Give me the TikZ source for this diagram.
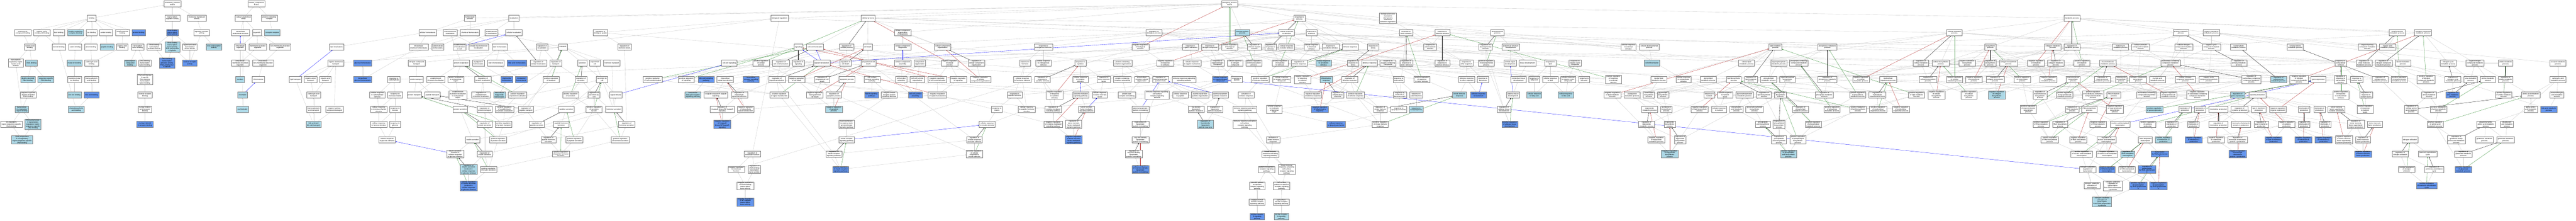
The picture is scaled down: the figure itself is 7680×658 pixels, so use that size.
\documentclass[tikz,border=0pt]{standalone}
\usepackage{fontspec}
\setmainfont{Liberation Sans}
\usepackage{xcolor}
\usetikzlibrary{arrows.meta, backgrounds}

\definecolor{golightblue}{HTML}{ADD8E6}
\definecolor{godarkblue}{HTML}{6495ED}
\definecolor{boxgray}{HTML}{808080}
\definecolor{edgegray}{HTML}{CCCCCC}
\definecolor{negred}{HTML}{B22222}
\definecolor{posgreen}{HTML}{2E8B2E}

\begin{document}
\begin{tikzpicture}[
    x=1pt, y=-1pt,
    gobox/.style={rectangle, draw=boxgray, line width=0.8pt, align=center, inner xsep=3pt, inner ysep=1pt, minimum height=18pt, minimum width=26pt, font=\fontsize{5.2}{5.8}\selectfont},
    goterm/.style={gobox, fill=white},
    golight/.style={gobox, fill=golightblue},
    godark/.style={gobox, fill=godarkblue},
    isaedge/.style={-{Triangle[length=3pt,width=2.6pt]}, draw=edgegray, line width=0.6pt},
    regedge/.style={-{Triangle[length=3pt,width=2.6pt]}, draw=black, line width=0.5pt},
    posedge/.style={-{Triangle[length=3pt,width=2.6pt]}, draw=posgreen, line width=0.5pt},
    negedge/.style={-{Triangle[length=3pt,width=2.6pt]}, draw=negred, line width=0.5pt},
    partedge/.style={-{Triangle[length=3pt,width=2.6pt]}, draw=blue, line width=0.5pt}
]
\useasboundingbox (0,0) rectangle (7680,658);

% molecular function
\node[goterm] (mf) at (514,11) {molecular\_function\\Nr1h4};
\node[goterm] (bind) at (273,54) {binding};
\node[goterm] (trreg) at (514,54) {transcription\\regulator activity};
\node[goterm] (mtrans) at (587,54) {molecular transducer\\activity};
\node[goterm] (hetcb) at (68,97) {heterocyclic\\compound binding};
\node[goterm] (orgcb) at (125,97) {organic cyclic\\compound binding};
\node[goterm] (lipb) at (175,97) {lipid binding};
\node[golight] (pccb) at (225,97) {protein-containing\\complex binding};
\node[goterm] (ionb) at (273,97) {ion binding};
\node[goterm] (amib) at (316,97) {amide binding};
\node[goterm] (smb) at (365,97) {small molecule\\binding};
\node[godark] (protb) at (413,97) {protein binding};
\node[godark] (dbtf) at (514,97) {DNA-binding\\transcription\\factor activity};
\node[goterm] (sigra) at (601,97) {signaling receptor\\activity};
\node[goterm] (nab) at (89,140) {nucleic acid\\binding};
\node[goterm] (sterb) at (175,140) {steroid binding};
\node[goterm] (catb) at (224,140) {cation binding};
\node[goterm] (anb) at (271,140) {anion binding};
\node[golight] (pepb) at (319,140) {peptide binding};
\node[goterm] (orgab) at (364,140) {organic acid\\binding};
\node[goterm] (tfb) at (410,140) {transcription\\factor binding};
\node[goterm] (dbta) at (460,140) {DNA-binding\\transcription\\activator activity};
\node[golight] (dbtf2) at (514,140) {DNA-binding\\transcription\\factor activity,\\RNA polymerase\\II-specific};
\node[goterm] (latf) at (566,140) {ligand-activated\\transcription\\factor activity};
\node[golight] (barec) at (638,140) {bile acid receptor\\activity};
\node[goterm] (trrnab) at (47,188) {transcription\\regulatory region\\nucleic acid\\binding};
\node[golight] (dnab) at (94,188) {DNA binding};
\node[golight] (metb) at (222,188) {metal ion binding};
\node[goterm] (carbb) at (273,188) {carboxylic acid\\binding};
\node[golight] (tcorb) at (388,188) {transcription\\coregulator\\binding};
\node[goterm] (dbtfb) at (432,188) {DNA-binding\\transcription\\factor binding};
\node[godark] (dbta2) at (498,188) {DNA-binding\\transcription\\activator activity,\\RNA polymerase\\II-specific};
\node[godark] (nrec) at (566,188) {nuclear receptor\\activity};
\node[golight] (dsdna) at (83,237) {double-stranded\\DNA binding};
\node[golight] (ssdna) at (137,237) {sequence-specific\\DNA binding};
\node[goterm] (tmib) at (222,237) {transition metal\\ion binding};
\node[goterm] (mcab) at (273,237) {monocarboxylic\\acid binding};
\node[goterm] (r2dbtfb) at (432,237) {RNA polymerase\\II-specific\\DNA-binding\\transcription\\factor binding};
\node[goterm] (ssds) at (84,283) {sequence-specific\\double-stranded\\DNA binding};
\node[golight] (znb) at (222,283) {zinc ion binding};
\node[godark] (bab) at (273,283) {bile acid binding};
\node[goterm] (nrb) at (432,283) {nuclear receptor\\binding};
\node[golight] (tcrb) at (65,326) {transcription\\cis-regulatory\\region binding};
\node[golight] (cdcab) at (227,326) {chenodeoxycholic\\acid binding};
\node[goterm] (nrarb) at (432,326) {nuclear retinoic\\acid receptor\\binding};
\node[goterm] (crssd) at (34,371) {cis-regulatory\\region sequence-specific\\DNA binding};
\node[golight] (r2trr) at (98,371) {RNA polymerase\\II transcription\\regulatory region\\sequence-specific\\DNA binding};
\node[godark] (nrxrb) at (432,371) {nuclear retinoid\\X receptor binding};
\node[golight] (r2crs) at (66,417) {RNA polymerase\\II cis-regulatory\\region sequence-specific\\DNA binding};

% cellular component
\node[goterm] (cc) at (764,11) {cellular\_component\\Nr1h4};
\node[goterm] (cae) at (726,54) {cellular anatomical\\entity};
\node[goterm] (pcc) at (803,54) {protein-containing\\complex};
\node[goterm] (ias) at (717,97) {intracellular\\anatomical structure};
\node[goterm] (org) at (766,97) {organelle};
\node[golight] (recc) at (812,97) {receptor complex};
\node[goterm] (iorg) at (716,140) {intracellular\\organelle};
\node[goterm] (mbo) at (768,140) {membrane-bounded\\organelle};
\node[goterm] (nmbo) at (835,140) {non-membrane-bounded\\organelle};
\node[goterm] (imbo) at (716,188) {intracellular\\membrane-bounded\\organelle};
\node[goterm] (inmbo) at (784,188) {intracellular\\non-membrane-bounded\\organelle};
\node[golight] (nucl) at (716,237) {nucleus};
\node[goterm] (chrom) at (770,237) {chromosome};
\node[golight] (chrtn) at (723,283) {chromatin};
\node[golight] (euchr) at (723,326) {euchromatin};

% biological process: localization, homeostasis, secretion
\node[goterm] (lipl) at (1003,140) {lipid localization};
\node[goterm] (celh) at (1275,97) {cellular homeostasis};
\node[goterm] (mmloc) at (1342,97) {macromolecule\\localization};
\node[goterm] (icchh) at (1248,140) {intracellular\\chemical homeostasis};
\node[goterm] (carbh) at (1305,140) {carbohydrate\\homeostasis};
\node[goterm] (ost) at (1001,188) {organic substance\\transport};
\node[godark] (gluh) at (1081,188) {glucose homeostasis};
\node[goterm] (nct) at (1242,188) {nitrogen compound\\transport};
\node[goterm] (lipt) at (881,237) {lipid transport};
\node[goterm] (oant) at (926,237) {organic anion\\transport};
\node[goterm] (oact) at (970,237) {organic acid\\transport};
\node[godark] (igluh) at (1081,237) {intracellular\\glucose homeostasis};
\node[goterm] (rcarb) at (1174,237) {response to\\carbohydrate};
\node[goterm] (amt) at (1241,237) {amide transport};
\node[goterm] (epl) at (1299,237) {establishment\\of protein localization};
\node[goterm] (plxr) at (1359,237) {protein localization\\to extracellular\\region};
\node[goterm] (cat) at (935,283) {carboxylic acid\\transport};
\node[goterm] (crcs) at (1125,283) {cellular response\\to carbohydrate\\stimulus};
\node[goterm] (rmono) at (1178,283) {response to\\monosaccharide};
\node[goterm] (prt) at (1235,283) {protein transport};
\node[goterm] (pept) at (1289,283) {peptide transport};
\node[goterm] (eplxr) at (1365,283) {establishment\\of protein localization\\to extracellular\\region};
\node[goterm] (mcat) at (935,326) {monocarboxylic\\acid transport};
\node[goterm] (ohct) at (997,326) {organic hydroxy\\compound transport};
\node[goterm] (crms) at (1129,326) {cellular response\\to monosaccharide\\stimulus};
\node[goterm] (rhex) at (1178,326) {response to\\hexose};
\node[golight] (babst) at (935,371) {bile acid and\\bile salt transport};
\node[goterm] (crhs) at (1129,371) {cellular response\\to hexose stimulus};
\node[goterm] (rglu) at (1178,371) {response to\\glucose};
\node[goterm] (crgs) at (1154,417) {cellular response\\to glucose stimulus};
\node[goterm] (isgs) at (1357,459) {insulin secretion\\involved in\\cellular response\\to glucose stimulus};
\node[goterm] (homp) at (1401,54) {homeostatic\\process};
\node[goterm] (loc) at (1532,54) {localization};
\node[goterm] (chemh) at (1401,97) {chemical homeostasis};
\node[goterm] (estl) at (1465,97) {establishment\\of localization};
\node[goterm] (cloc) at (1532,97) {cellular localization};
\node[goterm] (rbq) at (1790,97) {regulation of\\biological quality};
\node[goterm] (elic) at (1370,140) {establishment\\of localization\\in cell};
\node[goterm] (cmml) at (1427,140) {cellular macromolecule\\localization};
\node[goterm] (liph) at (1490,140) {lipid homeostasis};
\node[goterm] (rloc) at (1616,140) {regulation of\\localization};
\node[goterm] (trans) at (1678,140) {transport};
\node[goterm] (rhl) at (1862,140) {regulation of\\hormone levels};
\node[goterm] (ploc) at (1375,188) {protein localization};
\node[goterm] (acgh) at (1426,188) {acylglycerol\\homeostasis};
\node[goterm] (sterh) at (1478,188) {sterol homeostasis};
\node[godark] (fah) at (1541,188) {fatty acid homeostasis};
\node[goterm] (rcloc) at (1605,188) {regulation of\\cellular localization};
\node[goterm] (rtr) at (1657,188) {regulation of\\transport};
\node[goterm] (secr) at (1736,188) {secretion};
\node[goterm] (expc) at (1774,188) {export from\\cell};
\node[goterm] (hort) at (1824,188) {hormone transport};
\node[goterm] (rploc) at (1440,237) {regulation of\\protein localization};
\node[godark] (tgh) at (1511,237) {triglyceride\\homeostasis};
\node[godark] (cholh) at (1554,237) {cholesterol\\homeostasis};
\node[goterm] (prtr) at (1643,237) {positive regulation\\of transport};
\node[goterm] (rsec) at (1732,237) {regulation of\\secretion};
\node[goterm] (secc) at (1795,237) {secretion by\\cell};
\node[goterm] (prcc) at (1946,237) {positive regulation\\of cell communication};
\node[goterm] (prsig) at (2046,237) {positive regulation\\of signaling};
\node[goterm] (repl) at (1434,283) {regulation of\\establishment\\of protein localization};
\node[golight] (itgh) at (1489,283) {intracellular\\triglyceride\\homeostasis};
\node[goterm] (prploc) at (1543,283) {positive regulation\\of protein localization};
\node[goterm] (prsec) at (1701,283) {positive regulation\\of secretion};
\node[goterm] (rsecc) at (1771,283) {regulation of\\secretion by\\cell};
\node[goterm] (sigrel) at (1836,283) {signal release};
\node[golight] (ibarsp) at (2066,283) {intracellular\\bile acid receptor\\signaling pathway};
\node[goterm] (psec) at (1372,326) {protein secretion};
\node[goterm] (rprt) at (1445,326) {regulation of\\protein transport};
\node[goterm] (prepl) at (1504,326) {positive regulation\\of establishment\\of protein localization};
\node[goterm] (rpept) at (1568,326) {regulation of\\peptide transport};
\node[goterm] (pepsec) at (1688,326) {peptide secretion};
\node[goterm] (prsecc) at (1771,326) {positive regulation\\of secretion\\by cell};
\node[goterm] (horsec) at (1830,326) {hormone secretion};
\node[goterm] (rpsec) at (1445,371) {regulation of\\protein secretion};
\node[goterm] (prprt) at (1501,371) {positive regulation\\of protein transport};
\node[goterm] (rpepsec) at (1600,371) {regulation of\\peptide secretion};
\node[goterm] (phsec) at (1673,371) {peptide hormone\\secretion};
\node[goterm] (rhsec) at (1868,371) {regulation of\\hormone secretion};
\node[goterm] (inssec) at (1409,417) {insulin secretion};
\node[goterm] (prpsec) at (1485,417) {positive regulation\\of protein secretion};
\node[goterm] (rphsec) at (1635,417) {regulation of\\peptide hormone\\secretion};
\node[goterm] (prpepsec) at (1712,417) {positive regulation\\of peptide secretion};
\node[goterm] (prhsec) at (1849,417) {positive regulation\\of hormone secretion};
\node[goterm] (rinssec) at (1445,459) {regulation of\\insulin secretion};
\node[goterm] (prphsec) at (1672,459) {positive regulation\\of peptide hormone\\secretion};
\node[golight] (risgs) at (1397,505) {regulation of\\insulin secretion\\involved in\\cellular response\\to glucose stimulus};
\node[goterm] (prinssec) at (1456,505) {positive regulation\\of insulin secretion};
\node[godark] (prisgs) at (1397,554) {positive regulation\\of insulin secretion\\involved in\\cellular response\\to glucose stimulus};

% signaling and cell death
\node[goterm] (breg) at (2324,54) {biological regulation};
\node[goterm] (cellp) at (2588,54) {cellular process};
\node[goterm] (ccob) at (2691,97) {cellular component\\organization\\or biogenesis};
\node[goterm] (sig) at (2380,140) {signaling};
\node[goterm] (ccomm) at (2430,140) {cell communication};
\node[goterm] (rcp) at (2524,140) {regulation of\\cellular process};
\node[goterm] (cdeath) at (2587,140) {cell death};
\node[goterm] (ccbio) at (2691,140) {cellular component\\biogenesis};
\node[goterm] (ccsig) at (2174,188) {cell-cell signaling};
\node[goterm] (prcp) at (2269,188) {positive regulation\\of cellular\\process};
\node[goterm] (rcc) at (2328,188) {regulation of\\cell communication};
\node[goterm] (rsig) at (2380,188) {regulation of\\signaling};
\node[goterm] (st) at (2450,188) {signal transduction};
\node[goterm] (rcd) at (2521,188) {regulation of\\cell death};
\node[goterm] (pcd) at (2589,188) {programmed cell\\death};
\node[goterm] (ccasm) at (2691,188) {cellular component\\assembly};
\node[goterm] (cjo) at (2742,188) {cell junction\\organization};
\node[godark] (basp) at (2105,237) {bile acid signaling\\pathway};
\node[goterm] (ist) at (2162,237) {intracellular\\signal transduction};
\node[godark] (irsp) at (2239,237) {intracellular\\receptor signaling\\pathway};
\node[goterm] (rst) at (2316,237) {regulation of\\signal transduction};
\node[goterm] (nrcd) at (2375,237) {negative regulation\\of cell death};
\node[goterm] (rpcd) at (2451,237) {regulation of\\programmed cell\\death};
\node[goterm] (apop) at (2525,237) {apoptotic process};
\node[goterm] (csrsp) at (2600,237) {cell surface\\receptor signaling\\pathway};
\node[goterm] (cja) at (2687,237) {cell junction\\assembly};
\node[goterm] (ccjo) at (2735,237) {cell-cell junction\\organization};
\node[goterm] (nfkb) at (2134,283) {I-kappaB kinase/NF-kappaB\\signaling};
\node[goterm] (rist) at (2204,283) {regulation of\\intracellular\\signal transduction};
\node[goterm] (prst) at (2323,283) {positive regulation\\of signal transduction};
\node[goterm] (nrpcd) at (2429,283) {negative regulation\\of programmed\\cell death};
\node[goterm] (rap) at (2486,283) {regulation of\\apoptotic process};
\node[godark] (notch) at (2598,283) {Notch signaling\\pathway};
\node[goterm] (elrp) at (2651,283) {enzyme-linked\\receptor protein\\signaling pathway};
\node[godark] (ccja) at (2729,283) {cell-cell junction\\assembly};
\node[goterm] (rnfkb) at (2153,326) {regulation of\\I-kappaB kinase/NF-kappaB\\signaling};
\node[goterm] (nrist) at (2223,326) {negative regulation\\of intracellular\\signal transduction};
\node[golight] (nrap) at (2486,326) {negative regulation\\of apoptotic\\process};
\node[godark] (nrnfkb) at (2153,371) {negative regulation\\of I-kappaB\\kinase/NF-kappaB\\signaling};
\node[goterm] (rptk) at (2524,371) {transmembrane\\receptor protein\\tyrosine kinase\\signaling pathway};
\node[goterm] (insr) at (2524,417) {insulin receptor\\signaling pathway};
\node[goterm] (rmf) at (2243,459) {regulation of\\molecular function};
\node[goterm] (rinsr) at (2486,459) {regulation of\\insulin receptor\\signaling pathway};
\node[goterm] (nrmf) at (2195,505) {negative regulation\\of molecular\\function};
\node[goterm] (rdbtf) at (2249,505) {regulation of\\DNA-binding\\transcription\\factor activity};
\node[godark] (prinsr) at (2506,505) {positive regulation\\of insulin receptor\\signaling pathway};
\node[goterm] (nrdbtf) at (2222,554) {negative regulation\\of DNA-binding\\transcription\\factor activity};
\node[godark] (nrnfkbtf) at (2222,602) {negative regulation\\of NF-kappaB\\transcription\\factor activity};

% responses, cytokine, lipoprotein
\node[goterm] (rbp) at (3440,97) {regulation of\\biological process};
\node[goterm] (cco) at (2810,140) {cellular component\\organization};
\node[goterm] (res) at (3111,140) {response to\\endogenous stimulus};
\node[goterm] (nrbp) at (3400,140) {negative regulation\\of biological\\process};
\node[goterm] (nrcp) at (2831,188) {negative regulation\\of cellular\\process};
\node[goterm] (rcco) at (2911,188) {regulation of\\cellular component\\organization};
\node[goterm] (rhor) at (3056,188) {response to\\hormone};
\node[goterm] (cres) at (3111,188) {cellular response\\to endogenous\\stimulus};
\node[goterm] (rcyt) at (3221,188) {response to\\cytokine};
\node[goterm] (pcco) at (3347,188) {protein-containing\\complex organization};
\node[goterm] (nrrs) at (3474,188) {negative regulation\\of response\\to stimulus};
\node[goterm] (nrcc) at (2794,237) {negative regulation\\of cell communication};
\node[goterm] (nrsig) at (2857,237) {negative regulation\\of signaling};
\node[goterm] (nrcco) at (2923,237) {negative regulation\\of cellular\\component organization};
\node[goterm] (crhor) at (3048,237) {cellular response\\to hormone stimulus};
\node[goterm] (rrcs) at (3108,237) {regulation of\\response to\\cytokine stimulus};
\node[goterm] (crcyt) at (3221,237) {cellular response\\to cytokine\\stimulus};
\node[goterm] (rtnf) at (3291,237) {response to\\tumor necrosis\\factor};
\node[goterm] (pccr) at (3346,237) {protein-containing\\complex remodeling};
\node[goterm] (plcso) at (3404,237) {protein-lipid\\complex subunit\\organization};
\node[goterm] (rplpl) at (3460,237) {regulation of\\plasma lipoprotein\\particle levels};
\node[goterm] (nrst) at (2795,283) {negative regulation\\of signal transduction};
\node[goterm] (rph) at (3025,283) {response to\\peptide hormone};
\node[goterm] (nrrcs) at (3144,283) {negative regulation\\of response\\to cytokine\\stimulus};
\node[goterm] (cmsp) at (3222,283) {cytokine-mediated\\signaling pathway};
\node[goterm] (crtnf) at (3279,283) {cellular response\\to tumor necrosis\\factor};
\node[goterm] (plcr) at (3359,283) {protein-lipid\\complex remodeling};
\node[goterm] (irrcs) at (3450,283) {immune response-regulating\\cell surface\\receptor signaling\\pathway};
\node[goterm] (rins) at (2972,326) {response to\\insulin};
\node[goterm] (crph) at (3061,326) {cellular response\\to peptide hormone\\stimulus};
\node[goterm] (rcmsp) at (3140,326) {regulation of\\cytokine-mediated\\signaling pathway};
\node[goterm] (tnfsp) at (3239,326) {tumor necrosis\\factor-mediated\\signaling pathway};
\node[goterm] (plpr) at (3400,326) {plasma lipoprotein\\particle remodeling};
\node[goterm] (crins) at (2943,371) {cellular response\\to insulin stimulus};
\node[goterm] (nrcmsp) at (3140,371) {negative regulation\\of cytokine-mediated\\signaling pathway};
\node[goterm] (rtnfsp) at (3201,371) {regulation of\\tumor necrosis\\factor-mediated\\signaling pathway};
\node[goterm] (tgrlpr) at (3400,371) {triglyceride-rich\\lipoprotein\\particle remodeling};
\node[goterm] (rcrins) at (2905,417) {regulation of\\cellular response\\to insulin stimulus};
\node[godark] (nrtnfsp) at (3201,417) {negative regulation\\of tumor necrosis\\factor-mediated\\signaling pathway};
\node[goterm] (vldlr) at (3400,417) {very-low-density\\lipoprotein\\particle remodeling};
\node[goterm] (prcrins) at (2905,459) {positive regulation\\of cellular\\response to\\insulin stimulus};
\node[goterm] (rvldlr) at (3380,459) {regulation of\\very-low-density\\lipoprotein\\particle remodeling};
\node[godark] (nrvldlr) at (3400,505) {negative regulation\\of very-low-density\\lipoprotein\\particle remodeling};

% immune system and stimulus
\node[goterm] (bp) at (3666,11) {biological\_process\\Nr1h4};
\node[goterm] (rstim) at (3874,54) {response to\\stimulus};
\node[goterm] (bpii) at (4138,54) {biological process\\involved in\\interspecies\\interaction\\between organisms};
\node[golight] (imsp) at (3704,97) {immune system\\process};
\node[goterm] (crstim) at (3836,97) {cellular response\\to stimulus};
\node[goterm] (rchem) at (3910,97) {response to\\chemical};
\node[goterm] (ros) at (3549,140) {response to\\organic substance};
\node[goterm] (rnc) at (3607,140) {response to\\nitrogen compound};
\node[goterm] (prbp) at (3666,140) {positive regulation\\of biological\\process};
\node[goterm] (risp) at (3740,140) {regulation of\\immune system\\process};
\node[goterm] (rrs) at (3788,140) {regulation of\\response to\\stimulus};
\node[goterm] (crbs) at (3836,140) {cellular response\\to biotic stimulus};
\node[goterm] (crchem) at (3910,140) {cellular response\\to chemical\\stimulus};
\node[goterm] (rxs) at (3967,140) {response to\\xenobiotic stimulus};
\node[goterm] (imr) at (4025,140) {immune response};
\node[goterm] (rstress) at (4094,140) {response to\\stress};
\node[goterm] (cros) at (3554,188) {cellular response\\to organic substance};
\node[goterm] (ronc) at (3630,188) {response to\\organonitrogen\\compound};
\node[goterm] (crnc) at (3682,188) {cellular response\\to nitrogen\\compound};
\node[goterm] (prisp) at (3738,188) {positive regulation\\of immune system\\process};
\node[goterm] (prrs) at (3816,188) {positive regulation\\of response\\to stimulus};
\node[goterm] (rir) at (3873,188) {regulation of\\immune response};
\node[golight] (crxs) at (3946,188) {cellular response\\to xenobiotic\\stimulus};
\node[goterm] (rrst) at (4034,188) {regulation of\\response to\\stress};
\node[goterm] (defr) at (4083,188) {defense response};
\node[goterm] (rocc) at (4138,188) {response to\\oxygen-containing\\compound};
\node[goterm] (irrsp) at (3530,237) {immune response-regulating\\signaling pathway};
\node[godark] (cronc) at (3638,237) {cellular response\\to organonitrogen\\compound};
\node[goterm] (rpep) at (3687,237) {response to\\peptide};
\node[goterm] (prir) at (3757,237) {positive regulation\\of immune response};
\node[goterm] (crocc) at (3821,237) {cellular response\\to oxygen-containing\\compound};
\node[goterm] (nrres) at (3883,237) {negative regulation\\of response\\to external\\stimulus};
\node[golight] (inflr) at (3954,237) {inflammatory\\response};
\node[goterm] (rdefr) at (4024,237) {regulation of\\defense response};
\node[goterm] (rmoa) at (4170,237) {response to\\monoamine};
\node[goterm] (crpep) at (3519,283) {cellular response\\to peptide};
\node[goterm] (plpo) at (3578,283) {plasma lipoprotein\\particle organization};
\node[goterm] (plpc) at (3638,283) {plasma lipoprotein\\particle clearance};
\node[goterm] (air) at (3715,283) {activation of\\immune response};
\node[goterm] (nrdefr) at (3914,283) {negative regulation\\of defense response};
\node[goterm] (rinfl) at (3988,283) {regulation of\\inflammatory\\response};
\node[goterm] (prdefr) at (4041,283) {positive regulation\\of defense response};
\node[goterm] (rmbo) at (4173,283) {response to\\molecule of\\bacterial origin};
\node[goterm] (ldlc) at (3566,326) {low-density\\lipoprotein\\particle clearance};
\node[goterm] (rlpc) at (3622,326) {regulation of\\lipoprotein\\particle clearance};
\node[goterm] (irasp) at (3711,326) {immune response-activating\\signaling pathway};
\node[goterm] (crmbo) at (3799,326) {cellular response\\to molecule\\of bacterial\\origin};
\node[godark] (nrinfl) at (3935,326) {negative regulation\\of inflammatory\\response};
\node[goterm] (riir) at (4115,326) {regulation of\\innate immune\\response};
\node[goterm] (rlps) at (4170,326) {response to\\lipopolysaccharide};
\node[golight] (rldlc) at (3594,371) {regulation of\\low-density\\lipoprotein\\particle clearance};
\node[goterm] (iracs) at (3711,371) {immune response-activating\\cell surface\\receptor signaling\\pathway};
\node[godark] (crlps) at (3983,371) {cellular response\\to lipopolysaccharide};
\node[goterm] (priir) at (4115,371) {positive regulation\\of innate immune\\response};
\node[goterm] (aiir) at (3796,417) {activation of\\innate immune\\response};
\node[goterm] (iirasp) at (3787,459) {innate immune\\response-activating\\signaling pathway};
\node[goterm] (prrsp) at (3776,505) {pattern recognition\\receptor signaling\\pathway};
\node[goterm] (iiracs) at (3836,505) {innate immune\\response activating\\cell surface\\receptor signaling\\pathway};
\node[goterm] (cprr) at (3748,554) {cytosolic pattern\\recognition\\receptor signaling\\pathway};
\node[goterm] (csprr) at (3821,554) {cell surface\\pattern recognition\\receptor signaling\\pathway};
\node[goterm] (etlr) at (3748,602) {endolysosomal\\toll-like receptor\\signaling pathway};
\node[goterm] (cstlr) at (3820,602) {cell surface\\toll-like receptor\\signaling pathway};
\node[godark] (tlr9) at (3748,646) {toll-like receptor\\9 signaling\\pathway};
\node[golight] (tlr4) at (3820,646) {toll-like receptor\\4 signaling\\pathway};

% external stimulus and development
\node[goterm] (rbs) at (4192,97) {response to\\biotic stimulus};
\node[goterm] (rext) at (4300,97) {response to\\external stimulus};
\node[goterm] (devp) at (4464,97) {developmental\\process};
\node[goterm] (rebs) at (4264,140) {response to\\external biotic\\stimulus};
\node[goterm] (rdevp) at (4429,140) {regulation of\\developmental\\process};
\node[goterm] (asd) at (4504,140) {anatomical structure\\development};
\node[goterm] (crext) at (4855,140) {cellular response\\to external\\stimulus};
\node[goterm] (rrbs) at (4193,188) {regulation of\\response to\\biotic stimulus};
\node[goterm] (rrext) at (4300,188) {regulation of\\response to\\external stimulus};
\node[goterm] (roo) at (4372,188) {response to\\other organism};
\node[goterm] (prdevp) at (4431,188) {positive regulation\\of developmental\\process};
\node[goterm] (aod) at (4502,188) {animal organ\\development};
\node[goterm] (tisd) at (4554,188) {tissue development};
\node[goterm] (rlip) at (4622,188) {response to\\lipid};
\node[goterm] (rocyc) at (4696,188) {response to\\organic cyclic\\compound};
\node[goterm] (prrbs) at (4239,237) {positive regulation\\of response\\to biotic stimulus};
\node[goterm] (droo) at (4373,237) {defense response\\to other organism};
\node[goterm] (rbact) at (4421,237) {response to\\bacterium};
\node[goterm] (ctd) at (4527,237) {connective tissue\\development};
\node[goterm] (rfa) at (4574,237) {response to\\fatty acid};
\node[goterm] (crlip) at (4622,237) {cellular response\\to lipid};
\node[goterm] (crocyc) at (4675,237) {cellular response\\to organic cyclic\\compound};
\node[goterm] (rba) at (4723,237) {response to\\bile acid};
\node[goterm] (prrext) at (4810,237) {positive regulation\\of response\\to external\\stimulus};
\node[goterm] (rcat) at (4222,283) {response to\\catecholamine};
\node[golight] (iir) at (4351,283) {innate immune\\response};
\node[godark] (drb) at (4408,283) {defense response\\to bacterium};
\node[goterm] (atd) at (4511,283) {adipose tissue\\development};
\node[golight] (crfa) at (4574,283) {cellular response\\to fatty acid};
\node[golight] (crba) at (4668,283) {cellular response\\to bile acid};
\node[goterm] (nrlmp) at (4807,283) {negative regulation\\of lipid metabolic\\process};
\node[goterm] (acgm) at (4866,283) {acylglycerol\\metabolic process};
\node[golight] (rnorepi) at (4222,326) {response to\\norepinephrine};
\node[goterm] (ratd) at (4484,326) {regulation of\\adipose tissue\\development};
\node[godark] (pratd) at (4501,371) {positive regulation\\of adipose tissue\\development};

% lipid metabolism
\node[goterm] (cdp) at (4917,140) {cellular developmental\\process};
\node[goterm] (lmp) at (5293,140) {lipid metabolic\\process};
\node[goterm] (phmp) at (5448,140) {phosphorus metabolic\\process};
\node[golight] (cdiff) at (4925,188) {cell differentiation};
\node[goterm] (clmp) at (5207,188) {cellular lipid\\metabolic process};
\node[goterm] (opmp) at (5303,188) {organophosphate\\metabolic process};
\node[goterm] (pccmp) at (5363,188) {phosphate-containing\\compound metabolic\\process};
\node[goterm] (nlmp) at (4945,237) {neutral lipid\\metabolic process};
\node[goterm] (crexs) at (5019,237) {cellular response\\to extracellular\\stimulus};
\node[goterm] (glmp) at (5093,237) {glycerolipid\\metabolic process};
\node[goterm] (lbp) at (5169,237) {lipid biosynthetic\\process};
\node[goterm] (rlmp) at (5220,237) {regulation of\\lipid metabolic\\process};
\node[goterm] (plmp) at (5273,237) {phospholipid\\metabolic process};
\node[goterm] (opbp) at (5329,237) {organophosphate\\biosynthetic\\process};
\node[goterm] (rphmp) at (5448,237) {regulation of\\phosphorus metabolic\\process};
\node[goterm] (nrcmp) at (5548,237) {negative regulation\\of cellular\\metabolic process};
\node[goterm] (nlbp) at (4916,283) {neutral lipid\\biosynthetic\\process};
\node[goterm] (glbp) at (4958,283) {glycerolipid\\biosynthetic\\process};
\node[goterm] (rnut) at (5096,283) {response to\\nutrient};
\node[goterm] (crnl) at (5143,283) {cellular response\\to nutrient\\levels};
\node[goterm] (gplmp) at (5201,283) {glycerophospholipid\\metabolic process};
\node[goterm] (rlbp) at (5259,283) {regulation of\\lipid biosynthetic\\process};
\node[goterm] (plbp) at (5308,283) {phospholipid\\biosynthetic\\process};
\node[goterm] (rphamp) at (5439,283) {regulation of\\phosphate metabolic\\process};
\node[goterm] (prphmp) at (5538,283) {positive regulation\\of phosphorus\\metabolic process};
\node[goterm] (tgmp) at (4918,326) {triglyceride\\metabolic process};
\node[goterm] (agbp) at (4968,326) {acylglycerol\\biosynthetic\\process};
\node[goterm] (nrlbp) at (5067,326) {negative regulation\\of lipid biosynthetic\\process};
\node[goterm] (crnut) at (5125,326) {cellular response\\to nutrient};
\node[goterm] (pamp) at (5177,326) {phosphatidic\\acid metabolic\\process};
\node[goterm] (gplbp) at (5231,326) {glycerophospholipid\\biosynthetic\\process};
\node[goterm] (rplmp) at (5368,326) {regulation of\\phospholipid\\metabolic process};
\node[goterm] (prphamp) at (5462,326) {positive regulation\\of phosphate\\metabolic process};
\node[goterm] (prlbp) at (5539,326) {positive regulation\\of lipid biosynthetic\\process};
\node[goterm] (rtgmp) at (4909,371) {regulation of\\triglyceride\\metabolic process};
\node[goterm] (tgbp) at (4978,371) {triglyceride\\biosynthetic\\process};
\node[goterm] (pabp) at (5256,371) {phosphatidic\\acid biosynthetic\\process};
\node[goterm] (rplbp) at (5304,371) {regulation of\\phospholipid\\biosynthetic\\process};
\node[goterm] (prplmp) at (5406,371) {positive regulation\\of phospholipid\\metabolic process};
\node[goterm] (nrtgmp) at (4938,417) {negative regulation\\of triglyceride\\metabolic process};
\node[goterm] (rtgbp) at (5009,417) {regulation of\\triglyceride\\biosynthetic\\process};
\node[goterm] (rpabp) at (5304,417) {regulation of\\phosphatidic\\acid biosynthetic\\process};
\node[goterm] (prplbp) at (5360,417) {positive regulation\\of phospholipid\\biosynthetic\\process};
\node[golight] (nrtgbp) at (4978,459) {negative regulation\\of triglyceride\\biosynthetic\\process};
\node[golight] (prpabp) at (5332,459) {positive regulation\\of phosphatidic\\acid biosynthetic\\process};

% metabolic process and transcription
\node[goterm] (metp) at (6177,54) {metabolic process};
\node[goterm] (cmp) at (5827,97) {cellular metabolic\\process};
\node[goterm] (bsp) at (5934,140) {biosynthetic\\process};
\node[goterm] (colmp) at (6120,140) {collagen metabolic\\process};
\node[goterm] (rmp) at (6177,140) {regulation of\\metabolic process};
\node[goterm] (rcmp) at (5727,188) {regulation of\\cellular metabolic\\process};
\node[goterm] (cbp) at (5786,188) {cellular biosynthetic\\process};
\node[goterm] (osbp) at (5865,188) {organic substance\\biosynthetic\\process};
\node[goterm] (rbsp) at (5934,188) {regulation of\\biosynthetic\\process};
\node[goterm] (colbp) at (5988,188) {collagen biosynthetic\\process};
\node[goterm] (nrmp) at (6070,188) {negative regulation\\of metabolic\\process};
\node[goterm] (rcolmp) at (6129,188) {regulation of\\collagen metabolic\\process};
\node[goterm] (prmp) at (6207,188) {positive regulation\\of metabolic\\process};
\node[goterm] (mmmp) at (6284,188) {macromolecule\\metabolic process};
\node[goterm] (mop) at (5629,237) {multicellular\\organismal process};
\node[goterm] (rcbp) at (5748,237) {regulation of\\cellular biosynthetic\\process};
\node[goterm] (prcmp) at (5827,237) {positive regulation\\of cellular\\metabolic process};
\node[goterm] (nrbsp) at (5885,237) {negative regulation\\of biosynthetic\\process};
\node[goterm] (rcolbp) at (5948,237) {regulation of\\collagen biosynthetic\\process};
\node[goterm] (prbsp) at (6029,237) {positive regulation\\of biosynthetic\\process};
\node[goterm] (nrcolmp) at (6107,237) {negative regulation\\of collagen\\metabolic process};
\node[goterm] (mmbp) at (6181,237) {macromolecule\\biosynthetic\\process};
\node[goterm] (rmmmp) at (6268,237) {regulation of\\macromolecule\\metabolic process};
\node[goterm] (rmop) at (5597,283) {regulation of\\multicellular\\organismal process};
\node[goterm] (prlmp) at (5714,283) {positive regulation\\of lipid metabolic\\process};
\node[goterm] (nrcbp) at (5773,283) {negative regulation\\of cellular\\biosynthetic\\process};
\node[goterm] (prcbp) at (5870,283) {positive regulation\\of cellular\\biosynthetic\\process};
\node[golight] (nrcolbp) at (5953,283) {negative regulation\\of collagen\\biosynthetic\\process};
\node[goterm] (rmmbp) at (6082,283) {regulation of\\macromolecule\\biosynthetic\\process};
\node[goterm] (prmmmp) at (6155,283) {positive regulation\\of macromolecule\\metabolic process};
\node[goterm] (prncmp) at (6240,283) {positive regulation\\of nucleobase-containing\\compound metabolic\\process};
\node[goterm] (prmop) at (5599,326) {positive regulation\\of multicellular\\organismal process};
\node[goterm] (nrmop) at (5667,326) {negative regulation\\of multicellular\\organismal process};
\node[goterm] (prmmbp) at (6047,326) {positive regulation\\of macromolecule\\biosynthetic\\process};
\node[goterm] (rrnamp) at (6178,326) {regulation of\\RNA metabolic\\process};
\node[goterm] (rnabp) at (6229,326) {RNA biosynthetic\\process};
\node[goterm] (prrnamp) at (6085,371) {positive regulation\\of RNA metabolic\\process};
\node[goterm] (rrnabp) at (6142,371) {regulation of\\RNA biosynthetic\\process};
\node[goterm] (nrrnamp) at (6255,371) {negative regulation\\of RNA metabolic\\process};
\node[goterm] (prrnabp) at (6111,417) {positive regulation\\of RNA biosynthetic\\process};
\node[goterm] (nrrnabp) at (6196,417) {negative regulation\\of RNA biosynthetic\\process};
\node[goterm] (rnatt) at (6280,417) {regulation of\\nucleic acid-templated\\transcription};
\node[goterm] (prnatt) at (6206,459) {positive regulation\\of nucleic acid-templated\\transcription};
\node[goterm] (nrnatt) at (6282,459) {negative regulation\\of nucleic acid-templated\\transcription};
\node[goterm] (ncrt) at (6224,505) {nitrogen catabolite\\regulation of\\transcription};
\node[godark] (prdtt) at (6282,505) {positive regulation\\of DNA-templated\\transcription};
\node[goterm] (ncat) at (6237,554) {nitrogen catabolite\\activation of\\transcription};
\node[goterm] (ncrt2) at (6299,554) {nitrogen catabolite\\regulation of\\transcription\\from RNA polymerase\\II promoter};
\node[golight] (ncat2) at (6267,602) {nitrogen catabolite\\activation of\\transcription\\from RNA polymerase\\II promoter};
\node[goterm] (pmp) at (6502,97) {primary metabolic\\process};
\node[goterm] (osmp) at (6593,97) {organic substance\\metabolic process};
\node[goterm] (hmp) at (6322,140) {heterocycle\\metabolic process};
\node[goterm] (camp) at (6382,140) {cellular aromatic\\compound metabolic\\process};
\node[goterm] (cncmp) at (6510,140) {cellular nitrogen\\compound metabolic\\process};
\node[goterm] (occmp) at (6593,140) {organic cyclic\\compound metabolic\\process};
\node[goterm] (chmp) at (6674,140) {carbohydrate\\metabolic process};
\node[goterm] (ckmp) at (6843,140) {cellular ketone\\metabolic process};
\node[goterm] (ncmp) at (6471,188) {nucleobase-containing\\compound metabolic\\process};
\node[goterm] (rpmp) at (6675,188) {regulation of\\primary metabolic\\process};
\node[goterm] (rexs) at (6979,188) {response to\\extracellular\\stimulus};
\node[goterm] (hbp) at (6324,237) {heterocycle\\biosynthetic\\process};
\node[goterm] (acbp) at (6374,237) {aromatic compound\\biosynthetic\\process};
\node[goterm] (namp) at (6432,237) {nucleic acid\\metabolic process};
\node[goterm] (cncbp) at (6515,237) {cellular nitrogen\\compound biosynthetic\\process};
\node[goterm] (occbp) at (6585,237) {organic cyclic\\compound biosynthetic\\process};
\node[goterm] (rncmp) at (6712,237) {regulation of\\nucleobase-containing\\compound metabolic\\process};
\node[golight] (rchmp) at (6793,237) {regulation of\\carbohydrate\\metabolic process};
\node[goterm] (nrncomp) at (6854,237) {negative regulation\\of nitrogen\\compound metabolic\\process};
\node[goterm] (gexp) at (6912,237) {gene expression};
\node[goterm] (rrexs) at (6978,237) {regulation of\\response to\\extracellular\\stimulus};
\node[goterm] (rnamp) at (6302,283) {RNA metabolic\\process};
\node[goterm] (ncbp) at (6400,283) {nucleobase-containing\\compound biosynthetic\\process};
\node[goterm] (nrmmmp) at (6465,283) {negative regulation\\of macromolecule\\metabolic process};
\node[goterm] (nrncmp) at (6551,283) {negative regulation\\of nucleobase-containing\\compound metabolic\\process};
\node[golight] (rgexp) at (6671,283) {regulation of\\gene expression};
\node[goterm] (cytp) at (6730,283) {cytokine production};
\node[goterm] (prrexs) at (6979,283) {positive regulation\\of response\\to extracellular\\stimulus};
\node[goterm] (nrmmbp) at (6305,326) {negative regulation\\of macromolecule\\biosynthetic\\process};
\node[golight] (prgexp) at (6423,326) {positive regulation\\of gene expression};
\node[goterm] (il17p) at (6514,326) {interleukin-17\\production};
\node[goterm] (il1p) at (6559,326) {interleukin-1\\production};
\node[goterm] (chemp) at (6614,326) {chemokine production};
\node[goterm] (rcytp) at (6677,326) {regulation of\\cytokine production};
\node[goterm] (ifngp) at (6734,326) {type II interferon\\production};
\node[goterm] (nrgexp) at (6791,326) {negative regulation\\of gene expression};
\node[goterm] (il6p) at (6869,326) {interleukin-6\\production};
\node[goterm] (il2p) at (6915,326) {interleukin-2\\production};
\node[goterm] (tnfsfp) at (6966,326) {tumor necrosis\\factor superfamily\\cytokine production};
\node[goterm] (natt) at (6321,371) {nucleic acid-templated\\transcription};
\node[goterm] (prcytp) at (6403,371) {positive regulation\\of cytokine\\production};
\node[goterm] (ril17p) at (6475,371) {regulation of\\interleukin-17\\production};
\node[goterm] (ril1p) at (6539,371) {regulation of\\interleukin-1\\production};
\node[goterm] (rchemp) at (6614,371) {regulation of\\chemokine production};
\node[goterm] (mcp1p) at (6681,371) {monocyte chemotactic\\protein-1 production};
\node[goterm] (rifngp) at (6742,371) {regulation of\\type II interferon\\production};
\node[goterm] (nrcytp) at (6817,371) {negative regulation\\of cytokine\\production};
\node[goterm] (ril6p) at (6869,371) {regulation of\\interleukin-6\\production};
\node[goterm] (ril2p) at (6932,371) {regulation of\\interleukin-2\\production};
\node[goterm] (rtnfsfp) at (7023,371) {regulation of\\tumor necrosis\\factor superfamily\\cytokine production};
\node[goterm] (dtt) at (6396,417) {DNA-templated\\transcription};
\node[golight] (pril17p) at (6450,417) {positive regulation\\of interleukin-17\\production};
\node[godark] (nril1p) at (6540,417) {negative regulation\\of interleukin-1\\production};
\node[goterm] (nrchemp) at (6607,417) {negative regulation\\of chemokine\\production};
\node[goterm] (rmcp1p) at (6671,417) {regulation of\\monocyte chemotactic\\protein-1 production};
\node[godark] (nrifngp) at (6778,417) {negative regulation\\of type II interferon\\production};
\node[godark] (nril6p) at (6867,417) {negative regulation\\of interleukin-6\\production};
\node[godark] (nril2p) at (6927,417) {negative regulation\\of interleukin-2\\production};
\node[goterm] (nrtnfsfp) at (6988,417) {negative regulation\\of tumor necrosis\\factor superfamily\\cytokine production};
\node[golight] (rdtt) at (6343,459) {regulation of\\DNA-templated\\transcription};
\node[godark] (trnap) at (6439,459) {transcription\\by RNA polymerase\\II};
\node[godark] (nrmcp1p) at (6671,459) {negative regulation\\of monocyte\\chemotactic\\protein-1 production};
\node[godark] (nrtnfp) at (7045,459) {negative regulation\\of tumor necrosis\\factor production};
\node[goterm] (nrdtt) at (6341,505) {negative regulation\\of DNA-templated\\transcription};
\node[godark] (rtrnap) at (6401,505) {regulation of\\transcription\\by RNA polymerase\\II};
\node[godark] (prtrnap) at (6375,554) {positive regulation\\of transcription\\by RNA polymerase\\II};
\node[godark] (nrtrnap) at (6435,554) {negative regulation\\of transcription\\by RNA polymerase\\II};

% small molecule and nitrogen metabolism
\node[goterm] (smmp) at (7147,97) {small molecule\\metabolic process};
\node[goterm] (nitcmp) at (7224,97) {nitrogen compound\\metabolic process};
\node[goterm] (ohcmp) at (7058,140) {organic hydroxy\\compound metabolic\\process};
\node[goterm] (oamp) at (7118,140) {organic acid\\metabolic process};
\node[goterm] (rsmmp) at (7048,188) {regulation of\\small molecule\\metabolic process};
\node[goterm] (rnitcmp) at (7106,188) {regulation of\\nitrogen compound\\metabolic process};
\node[goterm] (stmp) at (7164,188) {steroid metabolic\\process};
\node[goterm] (ncycmp) at (7299,188) {nitrogen cycle\\metabolic process};
\node[goterm] (oncmp) at (7379,188) {organonitrogen\\compound metabolic\\process};
\node[goterm] (amdmp) at (7470,188) {amide metabolic\\process};
\node[goterm] (oxmp) at (7626,188) {oxoacid metabolic\\process};
\node[goterm] (rnlev) at (7026,237) {response to\\nutrient levels};
\node[goterm] (rckmp) at (7096,237) {regulation of\\cellular ketone\\metabolic process};
\node[goterm] (prsmmp) at (7153,237) {positive regulation\\of small molecule\\metabolic process};
\node[goterm] (prnitcmp) at (7233,237) {positive regulation\\of nitrogen\\compound metabolic\\process};
\node[goterm] (rncycmp) at (7313,237) {regulation of\\nitrogen cycle\\metabolic process};
\node[goterm] (ureamp) at (7366,237) {urea metabolic\\process};
\node[goterm] (aminmp) at (7417,237) {amine metabolic\\process};
\node[goterm] (ramdmp) at (7470,237) {regulation of\\amide metabolic\\process};
\node[goterm] (cbamp) at (7626,237) {carboxylic acid\\metabolic process};
\node[goterm] (rrnlev) at (7054,283) {regulation of\\response to\\nutrient levels};
\node[goterm] (raminmp) at (7242,283) {regulation of\\amine metabolic\\process};
\node[godark] (rureamp) at (7312,283) {regulation of\\urea metabolic\\process};
\node[goterm] (pramdmp) at (7464,283) {positive regulation\\of amide metabolic\\process};
\node[goterm] (aamp) at (7545,283) {amino acid metabolic\\process};
\node[goterm] (mcamp) at (7623,283) {monocarboxylic\\acid metabolic\\process};
\node[goterm] (prrnlev) at (7051,326) {positive regulation\\of response\\to nutrient\\levels};
\node[goterm] (rcaamp) at (7189,326) {regulation of\\cellular amino\\acid metabolic\\process};
\node[goterm] (praminmp) at (7270,326) {positive regulation\\of amine metabolic\\process};
\node[goterm] (aaamp) at (7545,326) {alpha-amino\\acid metabolic\\process};
\node[godark] (bamp) at (7599,326) {bile acid metabolic\\process};
\node[goterm] (tnfp) at (7080,371) {tumor necrosis\\factor production};
\node[goterm] (praamp) at (7260,371) {positive regulation\\of amino acid\\metabolic process};
\node[goterm] (gfamp) at (7411,371) {glutamine family\\amino acid metabolic\\process};
\node[goterm] (dcamp) at (7474,371) {dicarboxylic\\acid metabolic\\process};
\node[goterm] (rtnfp) at (7045,417) {regulation of\\tumor necrosis\\factor production};
\node[goterm] (nutil) at (7185,417) {nitrogen utilization};
\node[goterm] (rgfamp) at (7323,417) {regulation of\\glutamine family\\amino acid metabolic\\process};
\node[goterm] (glnmp) at (7407,417) {glutamine metabolic\\process};
\node[goterm] (glump) at (7470,417) {glutamate metabolic\\process};
\node[goterm] (rnutil) at (7156,459) {regulation of\\nitrogen utilization};
\node[goterm] (aac) at (7238,459) {ammonia assimilation\\cycle};
\node[goterm] (rglump) at (7344,459) {regulation of\\glutamate metabolic\\process};
\node[goterm] (prnutil) at (7175,505) {positive regulation\\of nitrogen\\utilization};
\node[goterm] (raac) at (7257,505) {regulation of\\ammonia assimilation\\cycle};
\node[godark] (prglump) at (7344,505) {positive regulation\\of glutamate\\metabolic process};
\node[godark] (praac) at (7235,554) {positive regulation\\of ammonia assimilation\\cycle};

% connectors
\begin{scope}[on background layer]
\fill[white] (0,0) rectangle (7680,658);
\foreach \a/\b in {bind/mf, trreg/mf, mtrans/mf, hetcb/bind, orgcb/bind, lipb/bind, pccb/bind, ionb/bind, amib/bind, smb/bind, protb/bind, dbtf/trreg, sigra/mtrans, nab/hetcb, nab/orgcb, sterb/orgcb, sterb/lipb, catb/ionb, anb/ionb, pepb/amib, orgab/smb, tfb/protb, dbta/dbtf, dbtf2/dbtf, latf/dbtf, barec/sigra, trrnab/nab, dnab/nab, metb/catb, carbb/anb, carbb/orgab, tcorb/tfb, dbtfb/tfb, dbta2/dbta, dbta2/dbtf2, nrec/dbtf2, nrec/latf, nrec/sigra, dsdna/dnab, ssdna/dnab, tmib/metb, mcab/carbb, r2dbtfb/dbtfb, ssds/dsdna, ssds/ssdna, znb/tmib, bab/mcab, nrb/r2dbtfb, tcrb/trrnab, tcrb/ssds, cdcab/bab, cdcab/sterb, nrarb/nrb, crssd/tcrb, r2trr/tcrb, r2crs/crssd, r2crs/r2trr, nrxrb/nrarb,
  cae/cc, pcc/cc, ias/cae, org/cae, recc/pcc, iorg/org, mbo/org, nmbo/org, imbo/iorg, imbo/mbo, inmbo/iorg, inmbo/nmbo, nucl/imbo, chrom/inmbo, chrtn/cae, euchr/chrtn}
  \draw[isaedge] (\a) -- (\b);
\foreach \a/\b in {homp/bp, loc/bp, breg/bp, cellp/bp, rstim/bp, bpii/bp, metp/bp, devp/bp, imsp/bp, mop/bp, ccob/bp,
  chemh/homp, celh/homp, estl/loc, cloc/loc, mmloc/loc, lipl/loc, rbq/breg, icchh/chemh, icchh/celh, carbh/chemh, liph/chemh, elic/estl, cmml/mmloc, cmml/cloc, trans/estl, rloc/breg, rhl/rbq, ost/trans, nct/trans, lipt/ost, oant/ost, oact/ost, gluh/carbh, igluh/gluh, igluh/icchh, ploc/mmloc, acgh/liph, sterh/liph, fah/liph, rcloc/rloc, rtr/rloc, secr/trans, expc/trans, hort/trans, rploc/rcloc, tgh/acgh, cholh/sterh, prtr/rtr, rsec/rtr, secc/secr, secc/expc, repl/rploc, itgh/tgh, prploc/rploc, prsec/rsec, rsecc/rsec, sigrel/secc, rcarb/ros, crcs/rcarb, rmono/rcarb, crms/crcs, crms/rmono, rhex/rmono, crhs/crms, crhs/rhex, rglu/rhex, crgs/crhs, crgs/rglu, isgs/inssec, amt/nct, epl/ploc, prt/amt, prt/epl, pept/amt, plxr/ploc, eplxr/plxr, eplxr/epl, cat/oant, cat/oact, mcat/cat, ohct/ost, babst/mcat, babst/ohct, babst/lipt, psec/eplxr, psec/prt, psec/secc, rprt/rtr, rprt/rploc, prepl/repl, prepl/prploc, rpept/rtr, pepsec/pept, pepsec/secc, prsecc/rsecc, prsecc/prsec, horsec/hort, horsec/secc, horsec/sigrel, rpsec/rprt, rpsec/rsecc, prprt/rprt, prprt/prepl, prprt/prtr, rpepsec/rpept, rpepsec/rsecc, phsec/pepsec, phsec/horsec, rhsec/rsecc, rhsec/rhl, inssec/phsec, inssec/psec, prpsec/rpsec, prpsec/prprt, prpsec/prsecc, rphsec/rpepsec, rphsec/rhsec, prpepsec/rpepsec, prpepsec/prsecc, prhsec/rhsec, prhsec/prsecc, rinssec/rphsec, rinssec/rpsec, prphsec/rphsec, prphsec/prpepsec, prphsec/prhsec, risgs/rinssec, prinssec/rinssec, prinssec/prphsec, prinssec/prpsec, prisgs/risgs, prisgs/prinssec, prcc/rcc, prcc/prcp, prsig/rsig, prsig/prcp}
  \draw[isaedge] (\a) -- (\b);
\foreach \a/\b in {rbp/breg, rcp/rbp, prcp/rcp, prcp/prbp, nrcp/rcp, nrcp/nrbp, ccomm/cellp, cdeath/cellp, ccbio/ccob, cco/ccob, cco/cellp, ccsig/ccomm, ccsig/sig, rcc/rcp, rsig/rbp, rcd/rcp, pcd/cdeath, cjo/cco, basp/st, ist/st, irsp/st, rst/rcc, rst/rsig, nrcd/rcd, nrcd/nrcp, rpcd/rcd, apop/pcd, csrsp/st, cja/ccasm, cja/cjo, ccjo/cjo, nfkb/ist, rist/rst, prst/rst, prst/prsig, prst/prcc, nrpcd/rpcd, nrpcd/nrcd, rap/rpcd, notch/csrsp, elrp/csrsp, ccja/ccjo, ccja/cja, rnfkb/rist, nrist/rist, nrist/nrst, nrap/rap, nrap/nrpcd, nrnfkb/rnfkb, nrnfkb/nrist, rptk/elrp, rmf/breg, rinsr/rcrins, rinsr/rst, nrmf/rmf, nrmf/nrbp, rdbtf/rmf, prinsr/rinsr, prinsr/prcrins, prinsr/prst, nrdbtf/rdbtf, nrdbtf/nrmf, nrnfkbtf/nrdbtf, ibarsp/irsp, ibarsp/basp, insr/rptk,
  nrbp/rbp, rcco/rcp, res/rstim, rhor/res, cres/res, cres/crstim, rcyt/rchem, pcco/cco, nrrs/rrs, nrrs/nrbp, nrcc/rcc, nrcc/nrcp, nrsig/rsig, nrsig/nrcp, nrcco/rcco, nrcco/nrcp, crhor/rhor, crhor/cres, rrcs/rrs, crcyt/rcyt, crcyt/crchem, rtnf/rcyt, pccr/pcco, plcso/pcco, rplpl/rbq, nrst/rst, nrst/nrsig, nrst/nrcc, rph/rhor, rph/rpep, nrrcs/rrcs, nrrcs/nrrs, cmsp/csrsp, crtnf/rtnf, crtnf/crcyt, plcr/pccr, plcr/plcso, irrcs/csrsp, irrcs/irrsp, rins/rph, crph/rph, crph/crhor, crph/crpep, rcmsp/rrcs, rcmsp/rst, tnfsp/cmsp, plpr/plcr, plpr/plpo, crins/rins, crins/crph, nrcmsp/rcmsp, nrcmsp/nrrcs, nrcmsp/nrst, rtnfsp/rcmsp, tgrlpr/plpr, rcrins/rcp, nrtnfsp/rtnfsp, nrtnfsp/nrcmsp, vldlr/tgrlpr, prcrins/rcrins, prcrins/prcp, rvldlr/rplpl, nrvldlr/rvldlr}
  \draw[isaedge] (\a) -- (\b);
\foreach \a/\b in {crstim/rstim, crstim/cellp, rchem/rstim, ros/rchem, rnc/rchem, prbp/rbp, risp/rbp, rrs/rbp, crbs/crstim, crbs/rbs, crchem/crstim, crchem/rchem, rxs/rchem, imr/imsp, imr/rstim, rstress/rstim, cros/ros, cros/crchem, ronc/rnc, ronc/ros, crnc/rnc, crnc/crchem, prisp/risp, prisp/prbp, prrs/rrs, prrs/prbp, rir/risp, rir/rrs, crxs/rxs, crxs/crchem, rrst/rrs, defr/rstress, rocc/rchem, irrsp/st, cronc/ronc, cronc/cros, cronc/crnc, rpep/ronc, prir/rir, prir/prisp, prir/prrs, crocc/rocc, crocc/crchem, nrres/rrext, nrres/nrrs, inflr/defr, rdefr/rrst, rmoa/rnc, crpep/rpep, crpep/cronc, plpo/pcco, plpc/plpo, air/prir, nrdefr/rdefr, nrdefr/nrres, rinfl/rdefr, prdefr/rdefr, prdefr/prrs, rmbo/rbs, rmbo/rocc, ldlc/plpc, rlpc/rplpl, irasp/irrsp, irasp/air, crmbo/rmbo, crmbo/crocc, nrinfl/rinfl, nrinfl/nrdefr, riir/rir, riir/rdefr, rlps/rmbo, rldlc/rlpc, iracs/irasp, iracs/irrcs, crlps/rlps, crlps/crmbo, priir/riir, priir/prir, priir/prdefr, aiir/priir, aiir/air, iirasp/aiir, iirasp/irasp, prrsp/iirasp, iiracs/iirasp, iiracs/iracs, cprr/prrsp, csprr/prrsp, csprr/iiracs, etlr/cprr, cstlr/csprr, tlr9/etlr, tlr4/cstlr,
  rbs/rstim, rext/rstim, rebs/rbs, rebs/rext, rdevp/rbp, asd/devp, crext/rext, crext/crstim, rrbs/rrs, rrext/rrs, roo/rebs, roo/bpii, prdevp/rdevp, prdevp/prbp, aod/asd, tisd/asd, rlip/rchem, rocyc/rchem, prrbs/rrbs, prrbs/prrs, droo/roo, droo/defr, rbact/roo, ctd/tisd, rfa/rlip, crlip/rlip, crlip/crchem, crocyc/rocyc, crocyc/crchem, rba/rlip, rba/rocyc, prrext/rrext, prrext/prrs, rcat/rmoa, iir/imr, iir/droo, drb/droo, atd/ctd, crfa/rfa, crfa/crlip, crba/rba, crba/crlip, crba/crocyc, nrlmp/rlmp, nrlmp/nrcmp, acgm/nlmp, acgm/glmp, rnorepi/rcat, ratd/rdevp, pratd/ratd, pratd/prdevp}
  \draw[isaedge] (\a) -- (\b);
\foreach \a/\b in {cdp/cellp, cdp/devp, lmp/pmp, phmp/cmp, cdiff/cdp, clmp/lmp, clmp/cmp, opmp/phmp, pccmp/phmp, nlmp/lmp, crexs/crext, crexs/rexs, glmp/lmp, lbp/lmp, lbp/osbp, rlmp/rpmp, plmp/opmp, plmp/lmp, opbp/opmp, opbp/osbp, rphmp/rmp, nrcmp/rcmp, nrcmp/nrmp, nlbp/nlmp, nlbp/lbp, glbp/glmp, glbp/lbp, rnut/rnlev, crnl/rnlev, crnl/crexs, gplmp/plmp, gplmp/glmp, rlbp/rlmp, plbp/plmp, plbp/opbp, plbp/lbp, rphamp/rphmp, prphmp/rphmp, tgmp/acgm, agbp/acgm, agbp/nlbp, agbp/glbp, nrlbp/rlbp, nrlbp/nrlmp, crnut/rnut, crnut/crnl, pamp/gplmp, gplbp/gplmp, gplbp/plbp, rplmp/rlmp, prphamp/rphamp, prphamp/prphmp, prlbp/rlbp, prlbp/prlmp, rtgmp/rlmp, tgbp/tgmp, tgbp/agbp, pabp/pamp, pabp/gplbp, rplbp/rplmp, rplbp/rlbp, prplmp/rplmp, prplmp/prlmp, nrtgmp/rtgmp, nrtgmp/nrlmp, rtgbp/rtgmp, rtgbp/rlbp, rpabp/rplbp, prplbp/rplbp, prplbp/prplmp, prplbp/prlbp, nrtgbp/rtgbp, nrtgbp/nrtgmp, nrtgbp/nrlbp, prpabp/rpabp, prpabp/prplbp,
  cmp/metp, cmp/cellp, bsp/metp, colmp/metp, rmp/rbp, rcmp/rmp, cbp/cmp, cbp/bsp, osbp/bsp, osbp/osmp, rbsp/rmp, colbp/colmp, colbp/bsp, nrmp/rmp, nrmp/nrbp, rcolmp/rmp, prmp/rmp, prmp/prbp, mmmp/pmp, rcbp/rcmp, rcbp/rbsp, prcmp/rcmp, prcmp/prmp, nrbsp/rbsp, nrbsp/nrmp, rcolbp/rcolmp, rcolbp/rbsp, prbsp/rbsp, prbsp/prmp, nrcolmp/rcolmp, nrcolmp/nrmp, mmbp/mmmp, mmbp/bsp, rmmmp/rmp, rmop/rbp, prlmp/rlmp, prlmp/prmp, nrcbp/rcbp, nrcbp/nrbsp, prcbp/rcbp, prcbp/prbsp, nrcolbp/rcolbp, nrcolbp/nrcolmp, rmmbp/rmmmp, rmmbp/rbsp, prmmmp/rmmmp, prmmmp/prmp, prncmp/rncmp, prncmp/prmmmp, prmop/rmop, prmop/prbp, nrmop/rmop, nrmop/nrbp, prmmbp/rmmbp, prmmbp/prmmmp, prmmbp/prbsp, rrnamp/rncmp, rnabp/rnamp, rnabp/mmbp, prrnamp/rrnamp, prrnamp/prncmp, rrnabp/rrnamp, rrnabp/rmmbp, nrrnamp/rrnamp, nrrnamp/nrncmp, prrnabp/rrnabp, prrnabp/prrnamp, prrnabp/prmmbp, nrrnabp/rrnabp, nrrnabp/nrrnamp, rnatt/rrnabp, prnatt/rnatt, prnatt/prrnabp, nrnatt/rnatt, nrnatt/nrrnabp, ncrt/rnatt, prdtt/prnatt, prdtt/rdtt, ncat/ncrt, ncat/prnatt, ncrt2/ncrt, ncrt2/rtrnap, ncat2/ncat, ncat2/ncrt2, ncat2/prtrnap}
  \draw[isaedge] (\a) -- (\b);
\foreach \a/\b in {pmp/metp, osmp/metp, hmp/cmp, camp/cmp, cncmp/cmp, cncmp/nitcmp, occmp/osmp, chmp/pmp, ckmp/osmp, ncmp/hmp, ncmp/camp, ncmp/cncmp, ncmp/occmp, ncmp/pmp, rpmp/rmp, hbp/hmp, hbp/cbp, acbp/camp, acbp/cbp, namp/ncmp, namp/mmmp, cncbp/cncmp, cncbp/cbp, occbp/occmp, occbp/osbp, rncmp/rpmp, rncmp/rcmp, rchmp/rpmp, nrncomp/rnitcmp, nrncomp/nrmp, gexp/mmmp, rrexs/rrs, rexs/rext, rnamp/namp, ncbp/ncmp, ncbp/hbp, ncbp/acbp, ncbp/cncbp, ncbp/occbp, nrmmmp/rmmmp, nrmmmp/nrmp, nrncmp/rncmp, nrncmp/nrmmmp, rgexp/rmmmp, cytp/mop, prrexs/rrexs, prrexs/prrs, nrmmbp/rmmbp, nrmmbp/nrmmmp, nrmmbp/nrbsp, prgexp/rgexp, prgexp/prmmmp, il17p/cytp, il1p/cytp, chemp/cytp, rcytp/rgexp, ifngp/cytp, nrgexp/rgexp, nrgexp/nrmmmp, il6p/cytp, il2p/cytp, tnfsfp/cytp, natt/namp, natt/rnabp, prcytp/rcytp, ril17p/rcytp, ril1p/rcytp, rchemp/rcytp, mcp1p/chemp, rifngp/rcytp, nrcytp/rcytp, nrcytp/nrgexp, ril6p/rcytp, ril2p/rcytp, rtnfsfp/rcytp, dtt/natt, pril17p/ril17p, pril17p/prcytp, nril1p/ril1p, nril1p/nrcytp, nrchemp/rchemp, nrchemp/nrcytp, rmcp1p/rchemp, nrifngp/rifngp, nrifngp/nrcytp, nril6p/ril6p, nril6p/nrcytp, nril2p/ril2p, nril2p/nrcytp, nrtnfsfp/rtnfsfp, nrtnfsfp/nrcytp, rdtt/rnatt, trnap/dtt, nrmcp1p/rmcp1p, nrmcp1p/nrchemp, nrtnfp/rtnfp, nrtnfp/nrtnfsfp, nrdtt/rdtt, nrdtt/nrnatt, rtrnap/rdtt, prtrnap/rtrnap, prtrnap/prdtt, nrtrnap/rtrnap, nrtrnap/nrdtt,
  smmp/metp, nitcmp/metp, ohcmp/osmp, oamp/smmp, oamp/osmp, rsmmp/rmp, rnitcmp/rmp, stmp/lmp, stmp/ohcmp, ncycmp/nitcmp, oncmp/nitcmp, oncmp/osmp, amdmp/oncmp, oxmp/oamp, rnlev/rexs, rckmp/rcmp, prsmmp/rsmmp, prsmmp/prmp, prnitcmp/rnitcmp, prnitcmp/prmp, rncycmp/rnitcmp, ureamp/ncycmp, ureamp/oncmp, aminmp/oncmp, ramdmp/rnitcmp, cbamp/oxmp, rrnlev/rrexs, raminmp/rnitcmp, rureamp/rncycmp, pramdmp/ramdmp, aamp/cbamp, aamp/oncmp, mcamp/cbamp, prrnlev/rrnlev, prrnlev/prrexs, rcaamp/raminmp, rcaamp/rckmp, praminmp/raminmp, aaamp/aamp, bamp/mcamp, bamp/stmp, tnfp/tnfsfp, praamp/rcaamp, praamp/praminmp, gfamp/aaamp, dcamp/cbamp, rtnfp/rtnfsfp, rgfamp/rcaamp, glnmp/gfamp, glump/gfamp, glump/dcamp, aac/nutil, rglump/rgfamp, prnutil/rnutil, raac/rnutil, prglump/rglump, prglump/praamp, praac/raac, praac/prnutil}
  \draw[isaedge] (\a) -- (\b);
% regulates
\foreach \a/\b in {rcloc/cloc, rtr/trans, rploc/ploc, rsec/secr, rsecc/secc, rprt/prt, rpept/pept, rpsec/psec, rpepsec/pepsec, rhsec/horsec, rphsec/phsec, rinssec/inssec, risgs/isgs, rcp/cellp, rcc/ccomm, rsig/sig, rcd/cdeath, rst/st, rpcd/pcd, rist/ist, rap/apop, rnfkb/nfkb, rinsr/insr, rcco/cco, rrcs/rcyt, rcmsp/cmsp, rtnfsp/tnfsp, rcrins/crins, rvldlr/vldlr, risp/imsp, rrs/rstim, rir/imr, rrst/rstress, rdefr/defr, rinfl/inflr, rlpc/plpc, riir/iir, rldlc/ldlc, rdevp/devp, rrbs/rbs, rrext/rext, ratd/atd, rlmp/lmp, rphmp/phmp, rlbp/lbp, rphamp/pccmp, rplmp/plmp, rtgmp/tgmp, rplbp/plbp, rtgbp/tgbp, rpabp/pabp, rmp/metp, rcmp/cmp, rbsp/bsp, rcolmp/colmp, rcbp/cbp, rcolbp/colbp, rmmmp/mmmp, rmop/mop, rmmbp/mmbp, rrnamp/rnamp, rrnabp/rnabp, rnatt/natt, rpmp/pmp, rncmp/ncmp, rchmp/chmp, rrexs/rexs, rgexp/gexp, rcytp/cytp, ril17p/il17p, ril1p/il1p, rchemp/chemp, rifngp/ifngp, ril6p/il6p, ril2p/il2p, rtnfsfp/tnfsfp, rmcp1p/mcp1p, rdtt/dtt, rtrnap/trnap, rsmmp/smmp, rnitcmp/nitcmp, rckmp/ckmp, rncycmp/ncycmp, raminmp/aminmp, ramdmp/amdmp, rureamp/ureamp, rrnlev/rnlev, rcaamp/aamp, rtnfp/tnfp, rgfamp/gfamp, rnutil/nutil, rglump/glump, raac/aac}
  \draw[regedge] (\a) -- (\b);
% positively regulates
\foreach \a/\b in {prtr/trans, prploc/ploc, prsec/secr, prsecc/secc, prprt/prt, prpsec/psec, prpepsec/pepsec, prhsec/horsec, prphsec/phsec, prinssec/inssec, prisgs/isgs, prcc/ccomm, prsig/sig, prcp/cellp, prst/st, prinsr/insr, prcrins/crins, prbp/bp, prisp/imsp, prrs/rstim, prir/imr, prdefr/defr, priir/iir, prdevp/devp, prrbs/rbs, prrext/rext, pratd/atd, prphmp/phmp, prlbp/lbp, prplmp/plmp, prplbp/plbp, prpabp/pabp, prphamp/pccmp, prmp/metp, prcmp/cmp, prbsp/bsp, prlmp/lmp, prcbp/cbp, prmmmp/mmmp, prncmp/ncmp, prmop/mop, prmmbp/mmbp, prrnamp/rnamp, prrnabp/rnabp, prnatt/natt, prdtt/dtt, prrexs/rexs, prgexp/gexp, prcytp/cytp, pril17p/il17p, prtrnap/trnap, prsmmp/smmp, prnitcmp/nitcmp, pramdmp/amdmp, praminmp/aminmp, prrnlev/rnlev, praamp/aamp, prnutil/nutil, prglump/glump, praac/aac}
  \draw[posedge] (\a) -- (\b);
% negatively regulates
\foreach \a/\b in {nrcp/cellp, nrcd/cdeath, nrpcd/pcd, nrist/ist, nrap/apop, nrnfkb/nfkb, nrbp/bp, nrcc/ccomm, nrsig/sig, nrcco/cco, nrst/st, nrrcs/rcyt, nrcmsp/cmsp, nrtnfsp/tnfsp, nrvldlr/vldlr, nrrs/rstim, nrres/rext, nrdefr/defr, nrinfl/inflr, nrlmp/lmp, nrlbp/lbp, nrtgmp/tgmp, nrtgbp/tgbp, nrmp/metp, nrbsp/bsp, nrcolmp/colmp, nrcbp/cbp, nrcolbp/colbp, nrmop/mop, nrrnamp/rnamp, nrrnabp/rnabp, nrnatt/natt, nrcmp/cmp, nrmmmp/mmmp, nrncmp/ncmp, nrncomp/nitcmp, nrmmbp/mmbp, nrgexp/gexp, nrcytp/cytp, nril1p/il1p, nrchemp/chemp, nrifngp/ifngp, nril6p/il6p, nril2p/il2p, nrtnfsfp/tnfsfp, nrmcp1p/mcp1p, nrtnfp/tnfp, nrdtt/dtt, nrtrnap/trnap}
  \draw[negedge] (\a) -- (\b);
% part of
\foreach \a/\b in {iorg/ias, chrtn/chrom, lipt/lipl, isgs/crgs, elic/cloc, sigrel/ccsig, st/ccomm, st/sig, st/crstim, ccasm/ccbio, insr/crins, plpc/rplpl, plpr/rplpl, cmsp/crcyt, tnfsp/crtnf, drb/rbact, atd/aod, ncrt/cronc, natt/gexp}
  \draw[partedge] (\a) -- (\b);
\end{scope}
\end{tikzpicture}
\end{document}
